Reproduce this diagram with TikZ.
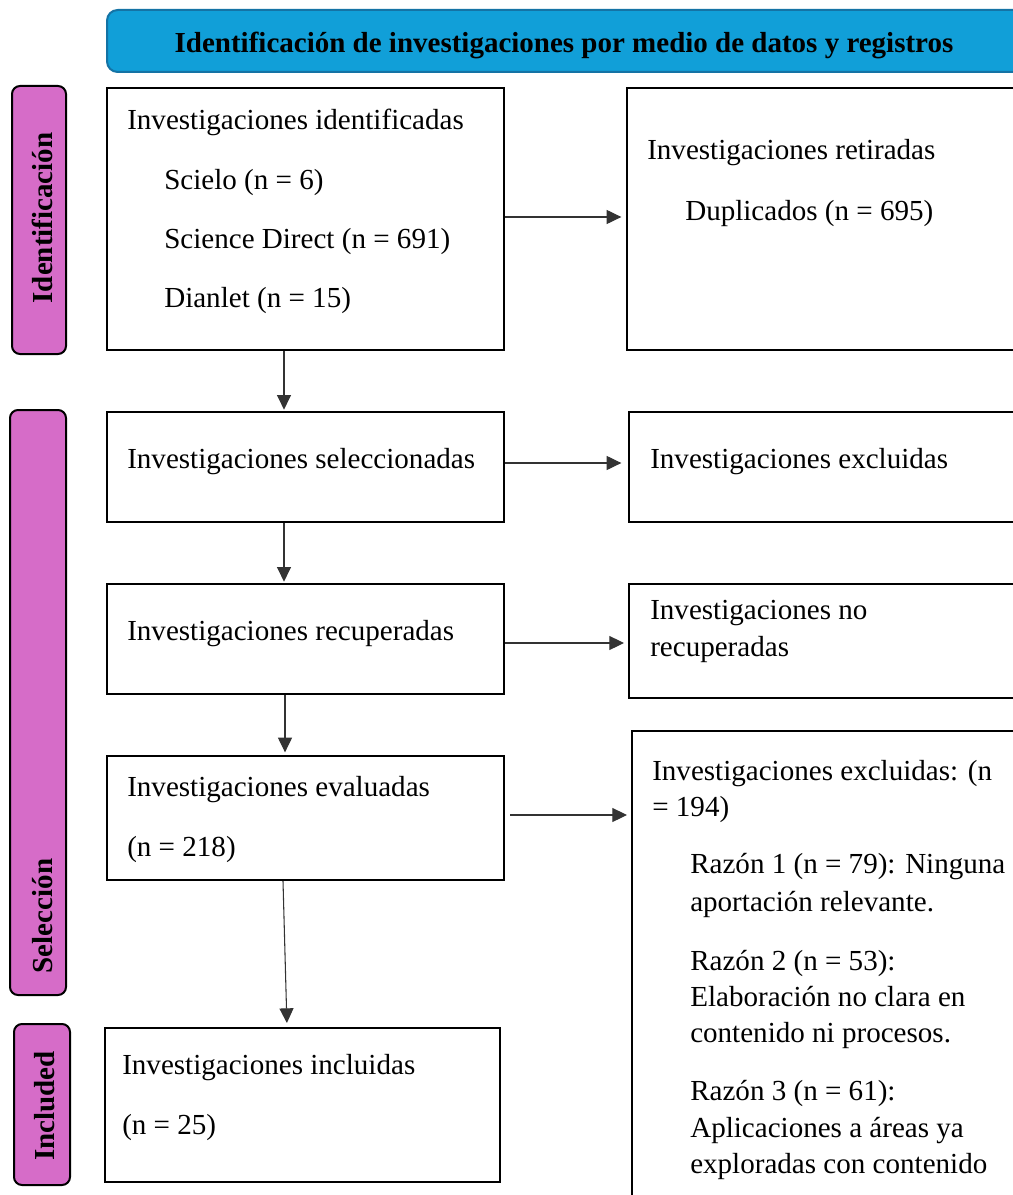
\documentclass[tikz,border=0pt]{standalone}
\usepackage{fontspec}
\setmainfont{Liberation Serif}
\usetikzlibrary{arrows.meta,fit}
\definecolor{bannerblue}{RGB}{17,159,216}
\definecolor{bannerline}{RGB}{20,115,165}
\definecolor{sidepink}{RGB}{214,108,200}
\begin{document}
\begin{tikzpicture}[x=0.75pt,y=-0.75pt,
  box/.style={draw=black,line width=1.5pt,inner sep=0pt},
  side/.style={draw=black,line width=1.5pt,fill=sidepink,rounded corners=6pt,inner sep=0pt},
  lbl/.style={anchor=base west,inner sep=0pt,font=\fontsize{21.8pt}{26pt}\selectfont},
  sidelbl/.style={anchor=base,rotate=90,inner sep=0pt,font=\fontsize{21.75pt}{26pt}\selectfont\bfseries},
  arr/.style={draw=black!80,line width=0.8pt,-{Triangle[length=11pt,width=10.5pt]}}]
\useasboundingbox (0,0) rectangle (1013,1195);
\clip (0,0) rectangle (1013,1195);
\fill[white] (0,0) rectangle (1013,1195);

% banner
\node[draw=bannerline,line width=1.5pt,fill=bannerblue,rounded corners=8pt,inner sep=0pt,fit={(107,10) (1040,72)}] (banner) {};
\node[anchor=base,inner sep=0pt,font=\fontsize{21.75pt}{26pt}\selectfont\bfseries] (title) at (564,53) {Identificación de investigaciones por medio de datos y registros};

% side labels
\node[side,fit={(12,86) (66,354)}] (s1) {};
\node[side,fit={(10,410) (66,995)}] (s2) {};
\node[side,fit={(14,1024) (70,1185)}] (s3) {};
\node[sidelbl] (s1t) at (52,218) {Identificación};
\node[sidelbl] (s2t) at (52,916) {Selección};
\node[sidelbl] (s3t) at (54,1106) {Included};

% boxes
\node[box,fit={(107,88) (504,350)}] (b1) {};
\node[box,fit={(107,412) (504,522)}] (b2) {};
\node[box,fit={(107,584) (504,694)}] (b3) {};
\node[box,fit={(107,756) (504,880)}] (b4) {};
\node[box,fit={(105,1028) (500,1182)}] (b5) {};
\node[box,fit={(627,88) (1040,350)}] (r1) {};
\node[box,fit={(629,412) (1040,522)}] (r2) {};
\node[box,fit={(629,584) (1040,698)}] (r3) {};
\node[box,fit={(632,731) (1040,1230)}] (r4) {};

% texts
\node[lbl] (t11) at (127,130) {Investigaciones identificadas};
\node[lbl] (t12) at (164,190) {Scielo (n = 6)};
\node[lbl] (t13) at (164,248) {Science Direct (n = 691)};
\node[lbl] (t14) at (164,307) {Dianlet (n = 15)};
\node[lbl] (u11) at (647,160) {Investigaciones retiradas};
\node[lbl] (u12) at (685,220) {Duplicados (n = 695)};
\node[lbl] (t21) at (127,468) {Investigaciones seleccionadas};
\node[lbl] (u21) at (650,468) {Investigaciones excluidas};
\node[lbl] (t31) at (127,640) {Investigaciones recuperadas};
\node[lbl] (u31) at (650,619) {Investigaciones no};
\node[lbl] (u32) at (650,656) {recuperadas};
\node[lbl] (t41) at (127,796) {Investigaciones evaluadas};
\node[lbl] (t42) at (127,856) {(n = 218)};
\node[lbl] (t51) at (122,1074) {Investigaciones incluidas};
\node[lbl] (t52) at (122,1134) {(n = 25)};
\node[lbl] (u41) at (652,780) {Investigaciones excluidas: (n};
\node[lbl] (u42) at (652,816) {= 194)};
\node[lbl] (u43) at (690,873) {Razón 1 (n = 79): Ninguna};
\node[lbl] (u44) at (690,911) {aportación relevante.};
\node[lbl] (u45) at (690,970) {Razón 2 (n = 53):};
\node[lbl] (u46) at (690,1006) {Elaboración no clara en};
\node[lbl] (u47) at (690,1042) {contenido ni procesos.};
\node[lbl] (u48) at (690,1100) {Razón 3 (n = 61):};
\node[lbl] (u49) at (690,1137) {Aplicaciones a áreas ya};
\node[lbl] (u4a) at (690,1173) {exploradas con contenido};

% connectors
\coordinate (h1) at (0,217);
\coordinate (h2) at (0,463);
\coordinate (h3) at (0,643);
\coordinate (h4) at (0,815);
\coordinate (v1) at (284,0);
\coordinate (v2) at (285,0);
\coordinate (v4a) at (283,0);
\coordinate (v4b) at (287,0);
\draw[arr,shorten >=3.5pt] (b1.east |- h1) -- (r1.west |- h1);
\draw[arr,shorten >=5pt] (b2.east |- h2) -- (r2.west |- h2);
\draw[arr,shorten >=3pt] (b3.east |- h3) -- (r3.west |- h3);
\draw[arr,shorten <=4pt,shorten >=3pt] (b4.east |- h4) -- (r4.west |- h4);
\draw[arr,shorten >=1pt] (b1.south -| v1) -- (b2.north -| v1);
\draw[arr,shorten >=1pt] (b2.south -| v1) -- (b3.north -| v1);
\draw[arr,shorten >=2pt] (b3.south -| v2) -- (b4.north -| v2);
\draw[arr,shorten >=3pt] (b4.south -| v4a) -- (b5.north -| v4b);
\end{tikzpicture}
\end{document}
